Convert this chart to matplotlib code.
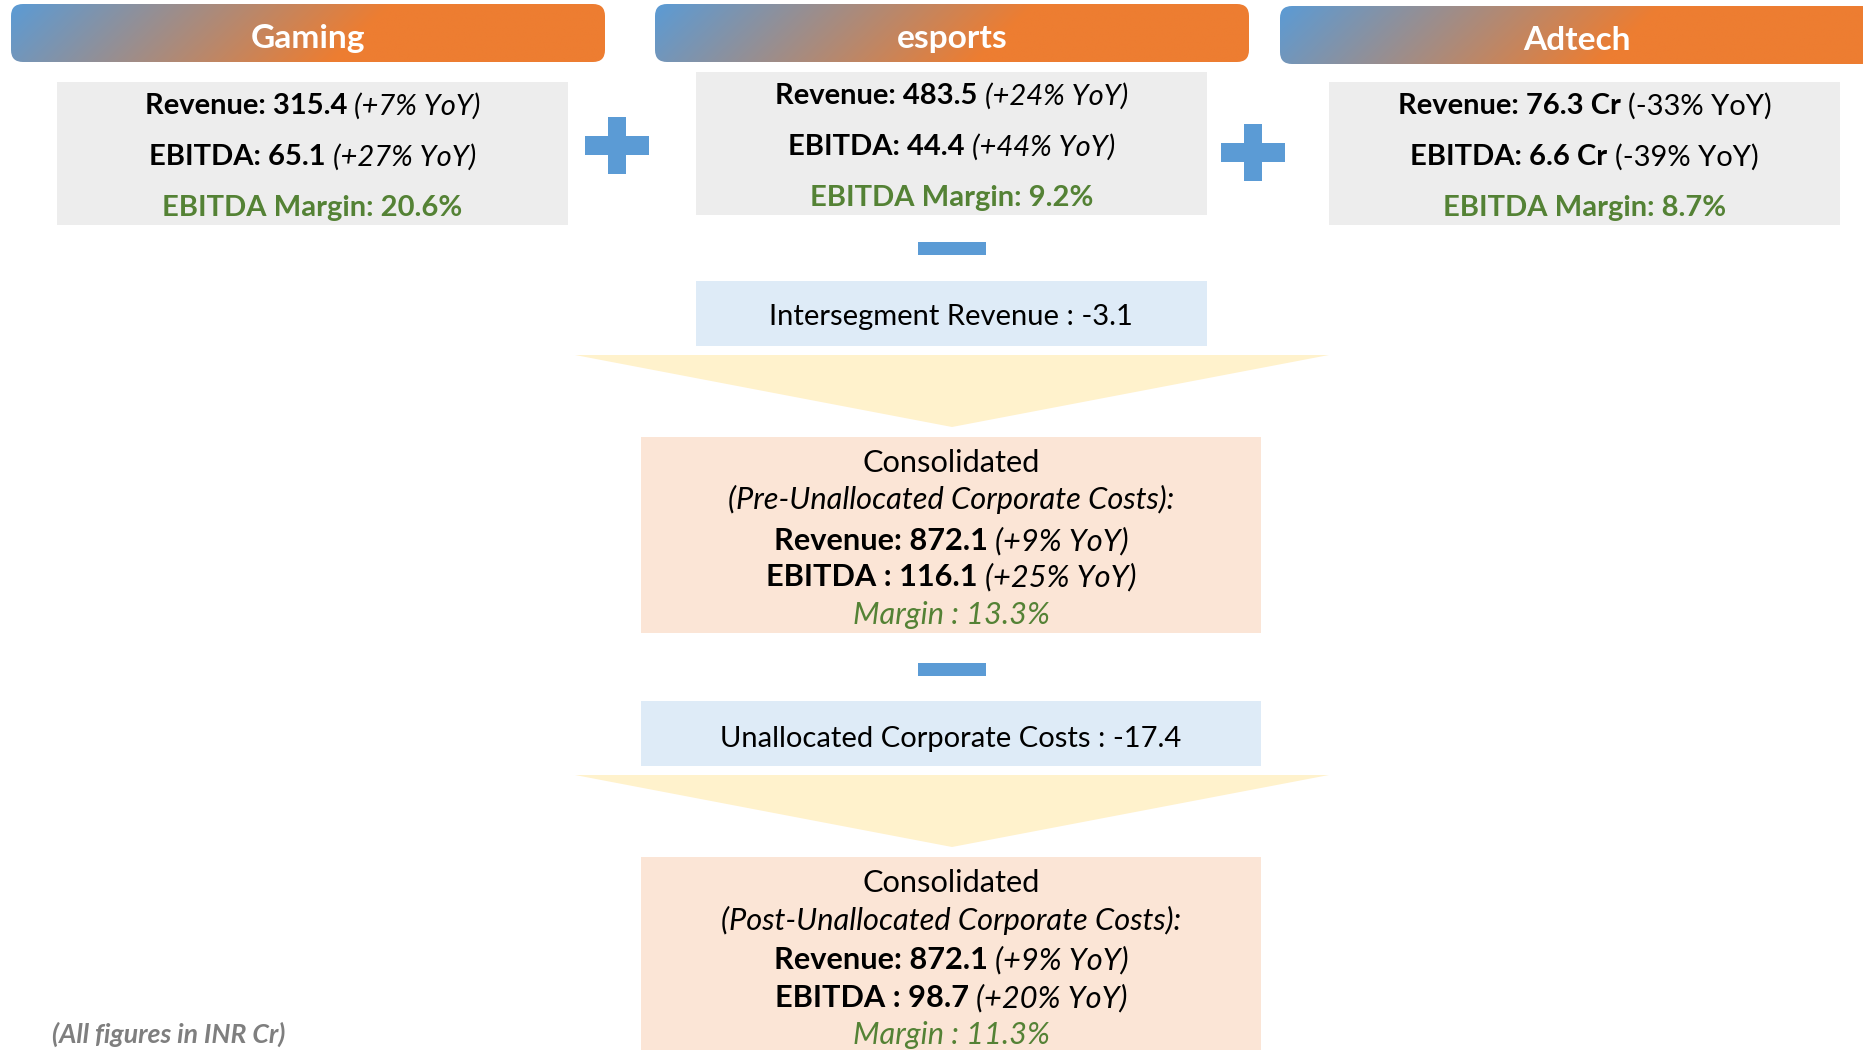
import matplotlib
matplotlib.use("Agg")
import matplotlib.pyplot as plt
from matplotlib.patches import FancyBboxPatch, Rectangle, Polygon
import numpy as np

# ---------------- data ----------------
segments = ["Gaming", "esports", "Adtech"]
seg_revenue = ["315.4", "483.5", "76.3"]
seg_revenue_yoy = ["+7%", "+24%", "-33%"]
seg_ebitda = ["65.1", "44.4", "6.6"]
seg_ebitda_yoy = ["+27%", "+44%", "-39%"]
seg_margin = ["20.6%", "9.2%", "8.7%"]
seg_unit = ["", "", " Cr"]
seg_yoy_style = ["italic", "italic", "normal"]

intersegment_revenue = "-3.1"
unallocated_costs = "-17.4"

pre_revenue, pre_revenue_yoy = "872.1", "+9%"
pre_ebitda, pre_ebitda_yoy = "116.1", "+25%"
pre_margin = "13.3%"

post_revenue, post_revenue_yoy = "872.1", "+9%"
post_ebitda, post_ebitda_yoy = "98.7", "+20%"
post_margin = "11.3%"

footnote = "(All figures in INR Cr)"

# ---------------- style ----------------
FONT = "Lato"
BLUE = "#5B9BD5"
ORANGE = "#ED7D31"
GRAY_BOX = "#EDEDED"
LIGHT_BLUE = "#DEEBF7"
PEACH = "#FBE5D6"
YELLOW = "#FFF2CC"
GREEN = "#548235"

W, H = 1863, 1050
fig = plt.figure(figsize=(W / 100, H / 100), dpi=100)
ax = fig.add_axes([0, 0, 1, 1])
ax.set_xlim(0, W)
ax.set_ylim(H, 0)
ax.axis("off")
renderer = fig.canvas.get_renderer()


def measure(s, size, weight="normal", style="normal"):
    t = ax.text(0, 0, s, fontsize=size, fontweight=weight, fontstyle=style, family=FONT)
    w = t.get_window_extent(renderer).width
    t.remove()
    return w


def space_w(size, weight="normal", style="normal"):
    return measure("x x", size, weight, style) - measure("xx", size, weight, style)


def line_width(pieces, size):
    total = 0
    for i, (s, wt, st, c) in enumerate(pieces):
        total += measure(s, size, wt, st)
        if i < len(pieces) - 1:
            total += space_w(size, wt, st)
    return total


def fit(pieces, target):
    return 20 * target / line_width(pieces, 20)


def draw_line(cx, cy, pieces, size, ha="center"):
    total = line_width(pieces, size)
    x = cx - total / 2 if ha == "center" else cx
    cap = 0.7165 * size * 100 / 72
    base = cy + cap / 2
    for i, (s, wt, st, c) in enumerate(pieces):
        ax.text(x, base, s, fontsize=size, fontweight=wt, fontstyle=st, color=c,
                family=FONT, ha="left", va="baseline", zorder=5)
        x += measure(s, size, wt, st)
        if i < len(pieces) - 1:
            x += space_w(size, wt, st)


def header(x0, y0, w, h, label, cy, size):
    patch = FancyBboxPatch((x0, y0), w, h, boxstyle="round,pad=0,rounding_size=12",
                           lw=0, fc="none", zorder=1)
    ax.add_patch(patch)
    nx, ny = 400, 30
    u = np.linspace(0, 1, nx)[None, :]
    v = np.linspace(0, 1, ny)[:, None]
    t = np.clip((u + 0.10 * v) / 0.64, 0, 1)
    c0 = np.array(matplotlib.colors.to_rgb(BLUE))
    c1 = np.array(matplotlib.colors.to_rgb(ORANGE))
    img = c0[None, None, :] * (1 - t[..., None]) + c1[None, None, :] * t[..., None]
    im = ax.imshow(img, extent=(x0, x0 + w, y0 + h, y0), origin="upper",
                   aspect="auto", interpolation="bilinear", zorder=1)
    im.set_clip_path(patch)
    draw_line(x0 + w / 2, cy, [(label, "bold", "normal", "white")], size)


def rect(x0, y0, x1, y1, color, z=2):
    ax.add_patch(Rectangle((x0, y0), x1 - x0, y1 - y0, fc=color, ec="none", zorder=z))


def plus(cx, cy):
    rect(cx - 32, cy - 9.5, cx + 32, cy + 9.5, BLUE, 3)
    rect(cx - 9, cy - 28.5, cx + 9, cy + 28.5, BLUE, 3)


def minus(cx, cy):
    rect(cx - 34, cy - 6.5, cx + 34, cy + 6.5, BLUE, 3)


def funnel(x0, x1, ytop, yapex):
    ax.add_patch(Polygon([(x0, ytop), (x1, ytop), ((x0 + x1) / 2, yapex)],
                         closed=True, fc=YELLOW, ec="none", zorder=2))


# ---------------- sizes ----------------
hdr_size = fit([("Gaming", "bold", "normal", "w")], 114)
seg_size = fit([("Revenue: 315.4", "bold", "normal", "k"), ("(+7% YoY)", "normal", "italic", "k")], 336)
mid_size = fit([("(Pre-Unallocated Corporate Costs):", "normal", "italic", "k")], 445)
note_size = fit([(footnote, "bold", "italic", "k")], 233)

# ---------------- headers ----------------
header_x = [11, 655, 1280]
header_y = [4, 4, 6]
header_cy = [36, 36, 38]
for i, name in enumerate(segments):
    header(header_x[i], header_y[i], 594, 58, name, header_cy[i], hdr_size)
ax.set_xlim(0, W)
ax.set_ylim(H, 0)

# ---------------- segment boxes ----------------
box_x = [57, 696, 1329]
box_y = [82, 72, 82]
line_offsets = [22, 73, 124]
for i in range(3):
    x0, y0 = box_x[i], box_y[i]
    rect(x0, y0, x0 + 511, y0 + 143, GRAY_BOX)
    cx = x0 + 511 / 2
    draw_line(cx, y0 + line_offsets[0],
              [(f"Revenue: {seg_revenue[i]}{seg_unit[i]}", "bold", "normal", "black"),
               (f"({seg_revenue_yoy[i]} YoY)", "normal", seg_yoy_style[i], "black")], seg_size)
    draw_line(cx, y0 + line_offsets[1],
              [(f"EBITDA: {seg_ebitda[i]}{seg_unit[i]}", "bold", "normal", "black"),
               (f"({seg_ebitda_yoy[i]} YoY)", "normal", seg_yoy_style[i], "black")], seg_size)
    draw_line(cx, y0 + line_offsets[2],
              [(f"EBITDA Margin: {seg_margin[i]}", "bold", "normal", GREEN)], seg_size)

plus(617, 145)
plus(1253, 152)
minus(952, 248)

# ---------------- intersegment ----------------
rect(696, 281, 1207, 346, LIGHT_BLUE)
draw_line(951, 315, [(f"Intersegment Revenue : {intersegment_revenue}", "normal", "normal", "black")], seg_size)
funnel(575, 1329, 355, 427)

# ---------------- consolidated pre ----------------
rect(641, 437, 1261, 633, PEACH)
draw_line(951, 461, [("Consolidated", "normal", "normal", "black")], mid_size)
draw_line(951, 498, [("(Pre-Unallocated Corporate Costs):", "normal", "italic", "black")], mid_size)
draw_line(951, 539, [(f"Revenue: {pre_revenue}", "bold", "normal", "black"),
                     (f"({pre_revenue_yoy} YoY)", "normal", "italic", "black")], mid_size)
draw_line(951, 575, [(f"EBITDA : {pre_ebitda}", "bold", "normal", "black"),
                     (f"({pre_ebitda_yoy} YoY)", "normal", "italic", "black")], mid_size)
draw_line(951, 613, [(f"Margin : {pre_margin}", "normal", "italic", GREEN)], mid_size)

minus(952, 669)

# ---------------- unallocated ----------------
rect(641, 701, 1261, 766, LIGHT_BLUE)
draw_line(951, 737, [(f"Unallocated Corporate Costs : {unallocated_costs}", "normal", "normal", "black")], seg_size)
funnel(575, 1329, 775, 847)

# ---------------- consolidated post ----------------
rect(641, 857, 1261, 1050, PEACH)
draw_line(951, 881, [("Consolidated", "normal", "normal", "black")], mid_size)
draw_line(951, 919, [("(Post-Unallocated Corporate Costs):", "normal", "italic", "black")], mid_size)
draw_line(951, 958, [(f"Revenue: {post_revenue}", "bold", "normal", "black"),
                     (f"({post_revenue_yoy} YoY)", "normal", "italic", "black")], mid_size)
draw_line(951, 996, [(f"EBITDA : {post_ebitda}", "bold", "normal", "black"),
                     (f"({post_ebitda_yoy} YoY)", "normal", "italic", "black")], mid_size)
draw_line(951, 1033, [(f"Margin : {post_margin}", "normal", "italic", GREEN)], mid_size)

# ---------------- footnote ----------------
draw_line(52, 1033, [(footnote, "bold", "italic", "#7F7F7F")], note_size, ha="left")

fig.savefig("out.png", dpi=100)
